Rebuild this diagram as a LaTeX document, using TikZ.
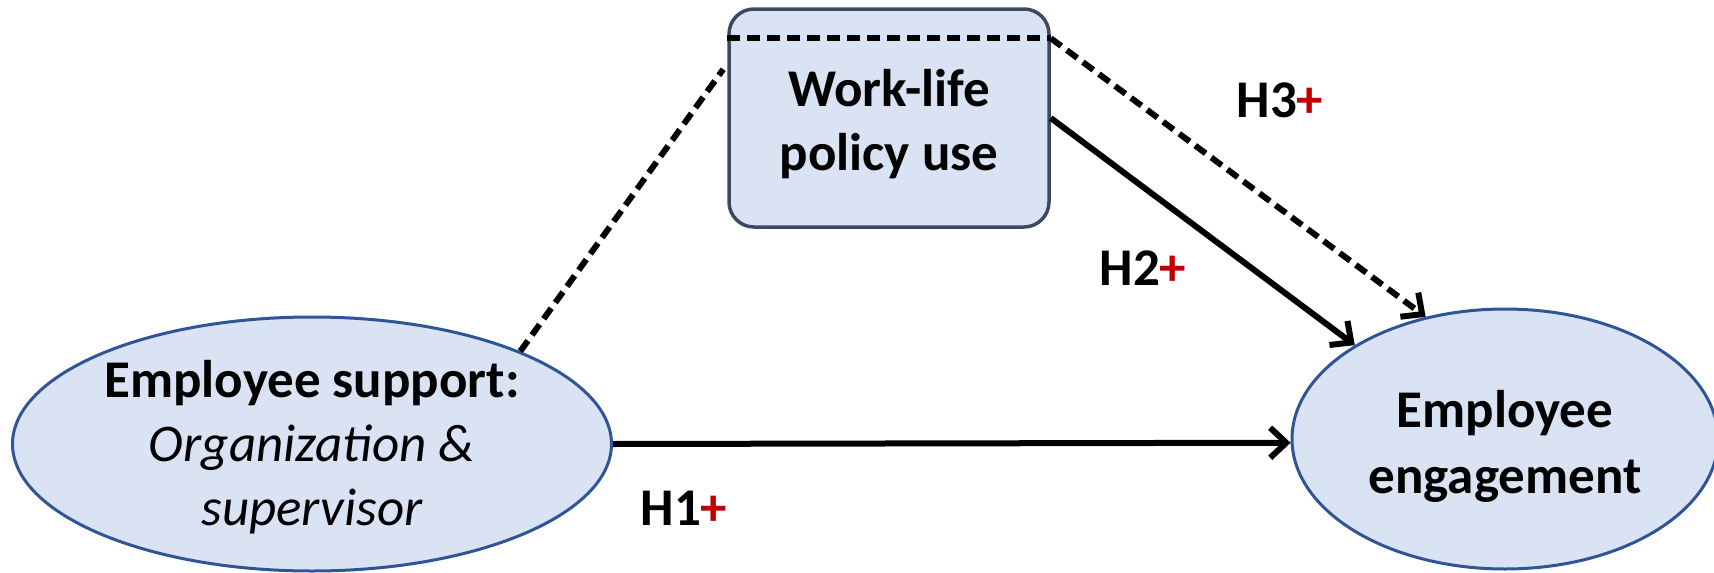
\documentclass[tikz,border=0pt]{standalone}
\usepackage{fontspec}
\setmainfont{Carlito}
\usetikzlibrary{arrows.meta,shapes.geometric}
\definecolor{fillblue}{HTML}{DAE3F3}
\definecolor{edgeblue}{HTML}{2F5597}
\definecolor{boxedge}{HTML}{3C4A60}
\definecolor{plusred}{HTML}{C00000}

\begin{document}
\begin{tikzpicture}[x=1pt,y=-1pt,
  every node/.style={font=\fontsize{53}{64}\selectfont\bfseries},
  oval/.style={ellipse, draw=edgeblue, line width=3pt, fill=fillblue,
    inner sep=0pt},
  policybox/.style={rectangle, rounded corners=25pt, draw=boxedge,
    line width=3.5pt, fill=fillblue, inner sep=0pt},
  caption/.style={align=center, inner sep=0pt},
  tipV/.tip={Straight Barb[length=16pt,width=30pt]},
  link/.style={line width=6pt, -tipV},
  dashlink/.style={line width=6pt, dash pattern=on 13pt off 7pt},
  hyp/.style={font=\fontsize{53}{63}\selectfont\bfseries}
]
\useasboundingbox (0,0) rectangle (1714,573);

% constructs
\node[policybox, minimum width=320pt, minimum height=218pt] (wl) at (889,118) {};
\node[oval, minimum width=599pt, minimum height=254pt] (es) at (312,444) {};
\node[oval, minimum width=426pt, minimum height=260pt] (ee) at (1505,439) {};

% their captions
\node[caption] (wlt) at ([yshift=-6pt]wl.center) {Work-life\\policy use};
\node[caption] (est) at ([yshift=-3pt]es.center)
  {Employee support:\\{\mdseries\itshape Organization \&}\\{\mdseries\itshape supervisor}};
\node[caption, font=\fontsize{53}{66}\selectfont\bfseries] (eet)
  at ([yshift=-7pt]ee.center) {Employee\\engagement};

% moderator band across the top of the policy box
\coordinate (wlL) at ([yshift=-31pt]wl.north west);
\coordinate (wlR) at ([yshift=-31pt]wl.north east);
\coordinate (wlS) at ([yshift=-62pt,xshift=-4pt]wl.north west);
\draw[dashlink] (wlL) -- (wlR);

% paths
\draw[dashlink] (es.24) -- (wlS);
\draw[link] (es.0.7) -- (ee.181);
\draw[link] (wl.east) -- (ee.148);
\draw[dashlink, -tipV] (wlR) -- (ee.123);

% hypothesis labels
\node[hyp] (h1) at (684,508) {H1\textcolor{plusred}{+}};
\node[hyp] (h2) at (1143,268) {H2\textcolor{plusred}{+}};
\node[hyp] (h3) at (1280,100) {H3\textcolor{plusred}{+}};
\end{tikzpicture}
\end{document}
